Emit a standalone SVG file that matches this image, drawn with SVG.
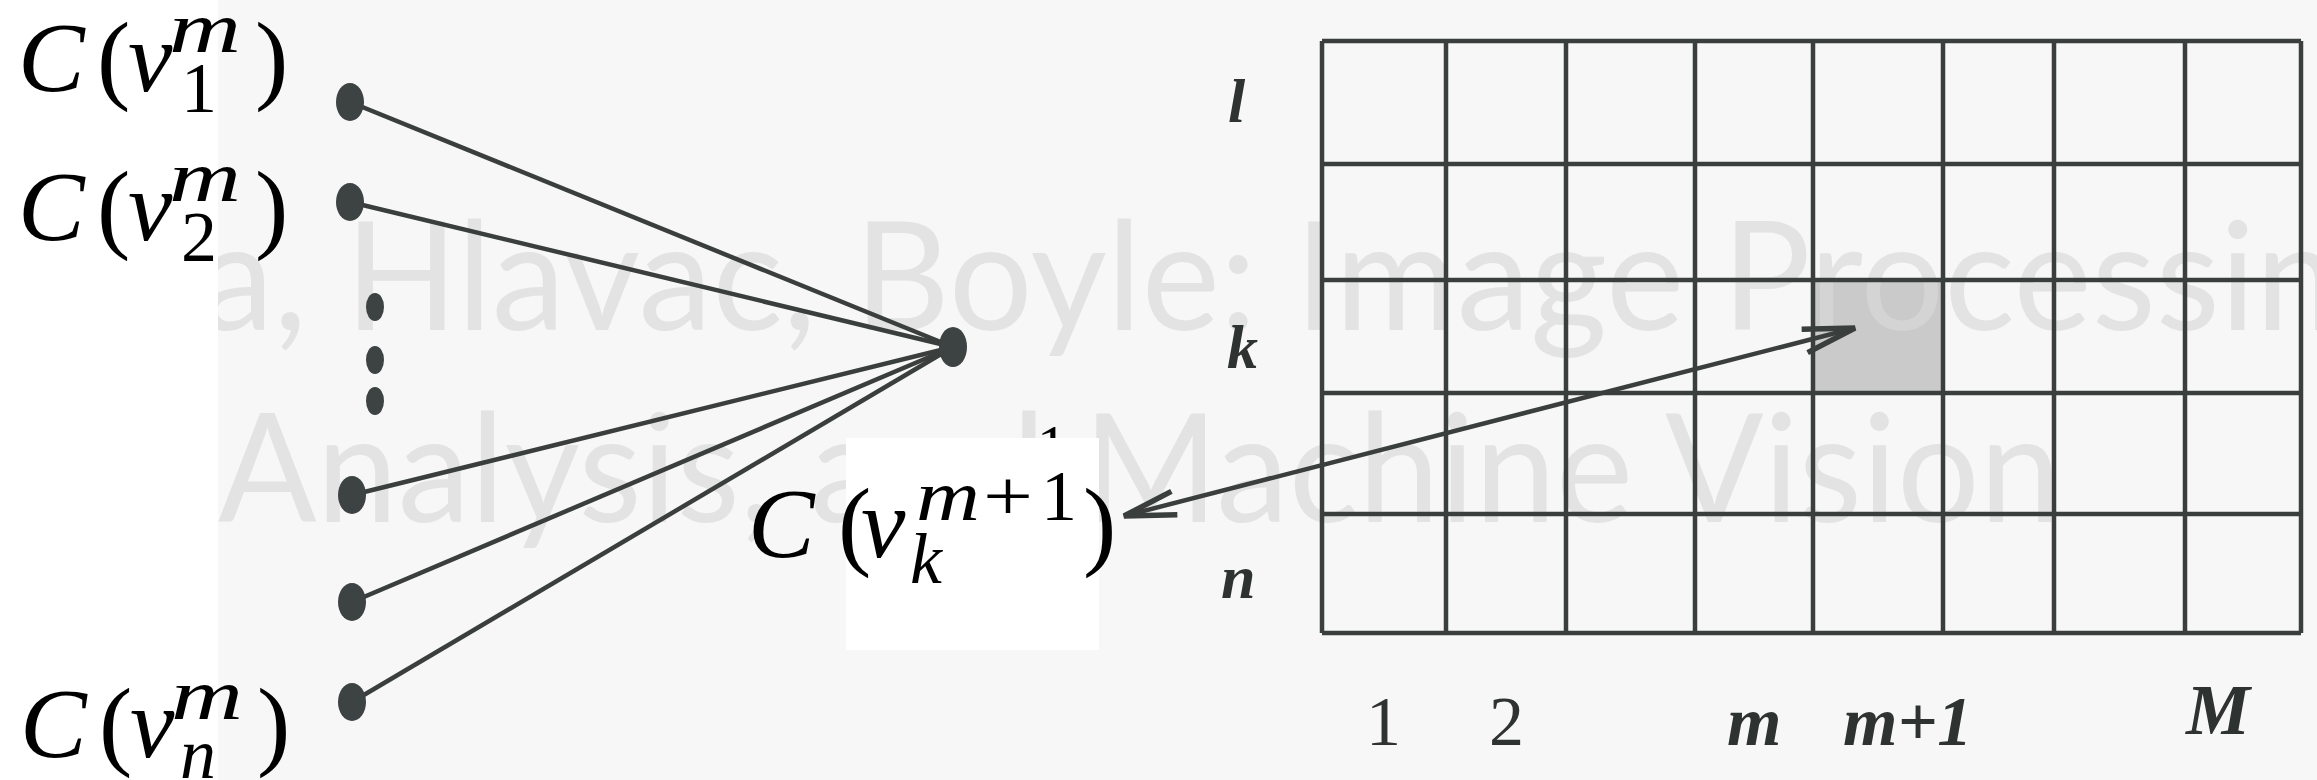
<svg xmlns="http://www.w3.org/2000/svg" width="2317" height="780" viewBox="0 0 2317 780">
<style>
.m{font-family:"Liberation Serif","DejaVu Serif",serif;fill:#000}
.i{font-style:italic}
.wm{font-family:Lato,"Open Sans","DejaVu Sans",sans-serif;fill:#dadada;opacity:0.68}
.ln{stroke:#3a3f3e;stroke-width:4.5;fill:none}
.dot{fill:#3d4342}
.gl{font-family:"Liberation Serif","DejaVu Serif",serif;fill:#2e3231}
</style>
<defs>
<marker id="arr" markerUnits="userSpaceOnUse" markerWidth="70" markerHeight="40" viewBox="-60 -20 70 40" refX="0" refY="0" orient="auto-start-reverse">
<path d="M-52,-12 L0,0 L-52,12" fill="none" stroke="#3a3f3e" stroke-width="5.5" stroke-linejoin="miter"/>
</marker>
</defs>
<g id="background">
<rect x="0" y="0" width="2317" height="780" fill="#f7f7f7"/>
<rect x="1813" y="280" width="130" height="113" fill="#cacaca"/>
<text class="wm" x="200" y="330" font-size="152" textLength="2215" lengthAdjust="spacingAndGlyphs">a, Hlavac, Boyle: Image Processing</text>
<text class="wm" x="218" y="522" font-size="152" textLength="1843" lengthAdjust="spacingAndGlyphs">Analysis, and Machine Vision</text>
<rect x="0" y="0" width="218" height="780" fill="#ffffff"/>
<text class="m" x="1037" y="466" font-size="60">1</text>
<rect x="846" y="438" width="253" height="212" fill="#ffffff"/>
</g>
<g id="grid">
<path class="ln" d="M1322,41 H2301 M1322,164 H2301 M1322,280 H2301 M1322,393 H2301 M1322,514 H2301 M1322,633 H2301 M1322,41 V633 M1446,41 V633 M1566,41 V633 M1695,41 V633 M1813,41 V633 M1943,41 V633 M2054,41 V633 M2185,41 V633 M2301,41 V633"/>
<text class="gl i" x="1228" y="122" font-size="62" font-weight="bold">l</text>
<text class="gl i" x="1227" y="368" font-size="62" font-weight="bold">k</text>
<text class="gl i" x="1221" y="598" font-size="62" font-weight="bold">n</text>
<text class="gl" x="1366" y="745" font-size="70">1</text>
<text class="gl" x="1489" y="745" font-size="70">2</text>
<text class="gl i" x="1727" y="745" font-size="70" font-weight="bold">m</text>
<text class="gl i" x="1843" y="745" font-size="70" font-weight="bold">m+1</text>
<text class="gl i" x="2186" y="734" font-size="72" font-weight="bold">M</text>
</g>
<g id="connectors">
<line class="ln" x1="350" y1="102" x2="953" y2="347"/>
<line class="ln" x1="350" y1="202" x2="953" y2="347"/>
<line class="ln" x1="352" y1="495" x2="953" y2="347"/>
<line class="ln" x1="352" y1="602" x2="953" y2="347"/>
<line class="ln" x1="352" y1="702" x2="953" y2="347"/>
<line class="ln" x1="1124" y1="516" x2="1855" y2="328" marker-start="url(#arr)" marker-end="url(#arr)"/>
</g>
<g id="node-v1">
<ellipse class="dot" cx="350" cy="102" rx="14" ry="19"/>
<text class="m i" x="18" y="91" font-size="100">C</text>
<text class="m" x="97" y="91" font-size="100">(</text>
<text class="m i" x="128" y="91" font-size="100">v</text>
<text class="m i" x="169" y="52" font-size="72" textLength="72" lengthAdjust="spacingAndGlyphs">m</text>
<text class="m" x="181" y="112" font-size="72">1</text>
<text class="m" x="255" y="91" font-size="100">)</text>
</g>
<g id="node-v2">
<ellipse class="dot" cx="350" cy="202" rx="14" ry="19"/>
<text class="m i" x="18" y="240" font-size="100">C</text>
<text class="m" x="97" y="240" font-size="100">(</text>
<text class="m i" x="128" y="240" font-size="100">v</text>
<text class="m i" x="169" y="201" font-size="72" textLength="72" lengthAdjust="spacingAndGlyphs">m</text>
<text class="m" x="181" y="261" font-size="72">2</text>
<text class="m" x="255" y="240" font-size="100">)</text>
</g>
<g id="node-ellipsis">
<ellipse class="dot" cx="375" cy="307" rx="9" ry="14"/>
<ellipse class="dot" cx="375" cy="360" rx="9" ry="14"/>
<ellipse class="dot" cx="375" cy="401" rx="9" ry="14"/>
</g>
<g id="node-v4"><ellipse class="dot" cx="352" cy="495" rx="14" ry="19"/></g>
<g id="node-v5"><ellipse class="dot" cx="352" cy="602" rx="14" ry="19"/></g>
<g id="node-vn">
<ellipse class="dot" cx="352" cy="702" rx="14" ry="19"/>
<text class="m i" x="20" y="757" font-size="100">C</text>
<text class="m" x="99" y="757" font-size="100">(</text>
<text class="m i" x="130" y="757" font-size="100">v</text>
<text class="m i" x="171" y="719" font-size="72" textLength="72" lengthAdjust="spacingAndGlyphs">m</text>
<text class="m i" x="180" y="778" font-size="72">n</text>
<text class="m" x="257" y="757" font-size="100">)</text>
</g>
<g id="node-hub">
<ellipse class="dot" cx="953" cy="347" rx="14" ry="20"/>
</g>
<g id="node-vk">
<text class="m i" x="748" y="557" font-size="100">C</text>
<text class="m" x="838" y="557" font-size="100">(</text>
<text class="m i" x="861" y="557" font-size="100">v</text>
<text class="m i" x="916" y="520" font-size="72" textLength="64" lengthAdjust="spacingAndGlyphs">m</text>
<text class="m" x="983" y="520" font-size="72" textLength="50" lengthAdjust="spacingAndGlyphs">+</text>
<text class="m" x="1041" y="520" font-size="72">1</text>
<text class="m i" x="910" y="583" font-size="72">k</text>
<text class="m" x="1083" y="557" font-size="100">)</text>
</g>
</svg>
